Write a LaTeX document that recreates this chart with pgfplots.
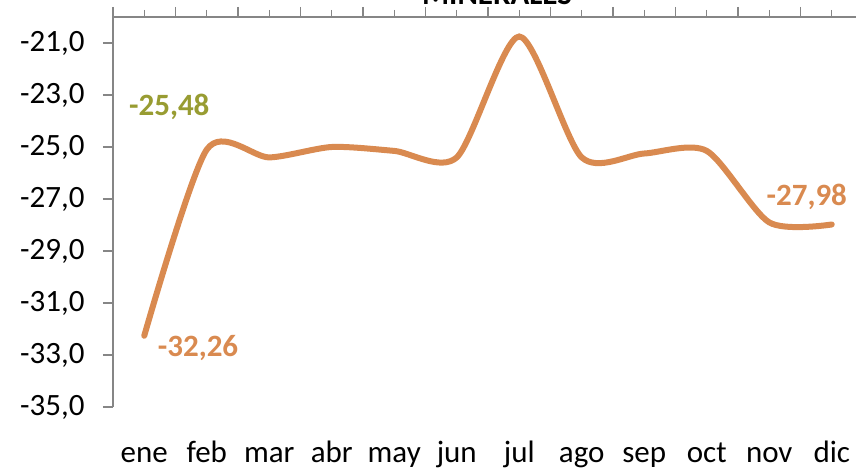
\documentclass[border=0pt]{standalone}
\usepackage{pgfplots}
\pgfplotsset{compat=1.18}
\usepackage{fontspec}
\setmainfont{Carlito}
\definecolor{serieorange}{RGB}{217,138,80}
\definecolor{labelgreen}{RGB}{152,156,50}
\definecolor{axisgray}{RGB}{134,134,134}

\begin{document}
\begin{tikzpicture}
\begin{axis}[
  at={(113bp,65bp)}, anchor=south west,
  scale only axis, width=750bp, height=390bp,
  xmin=-0.5, xmax=11.5, ymin=-35, ymax=-20,
  axis x line*=top, axis y line*=left,
  axis line style={axisgray, line width=1.3bp},
  every tick/.style={axisgray, line width=1.3bp},
  tick align=outside,
  major tick length=7bp, minor tick length=10bp,
  xtick={0,...,11},
  xticklabels={ene,feb,mar,abr,may,jun,jul,ago,sep,oct,nov,dic},
  minor xtick={-0.5,0.5,...,11.5},
  ytick={-35,-33,...,-21},
  minor ytick={-35,-33,...,-21},
  yticklabels={{-35,0},{-33,0},{-31,0},{-29,0},{-27,0},{-25,0},{-23,0},{-21,0}},
  font=\fontsize{31bp}{37bp}\selectfont,
  xticklabel style={anchor=base, yshift=-452bp},
  yticklabel style={anchor=east, xshift=-18bp},
  clip=false,
]
\addplot[serieorange, line width=6bp, line cap=round, smooth, tension=0.45] coordinates {
  (0,-32.26) (1,-25.10) (2,-25.40) (3,-25.00) (4,-25.15) (5,-25.40)
  (6,-20.75) (7,-25.40) (8,-25.25) (9,-25.15) (10,-27.90) (11,-27.98)
};
\node[font=\fontsize{31bp}{37bp}\selectfont\bfseries, text=serieorange] at (axis cs:0.86,-32.73) {-32,26};
\node[font=\fontsize{31bp}{37bp}\selectfont\bfseries, text=labelgreen] at (axis cs:0.4,-23.46) {-25,48};
\node[font=\fontsize{31bp}{37bp}\selectfont\bfseries, text=serieorange] at (axis cs:10.6,-26.92) {-27,98};
\end{axis}
\node[anchor=base, font=\fontsize{31bp}{37bp}\selectfont\bfseries] at (497bp,467bp) {MINERALES};
\pgfresetboundingbox
\useasboundingbox (0,0) rectangle (856bp,472bp);
\end{tikzpicture}
\end{document}
